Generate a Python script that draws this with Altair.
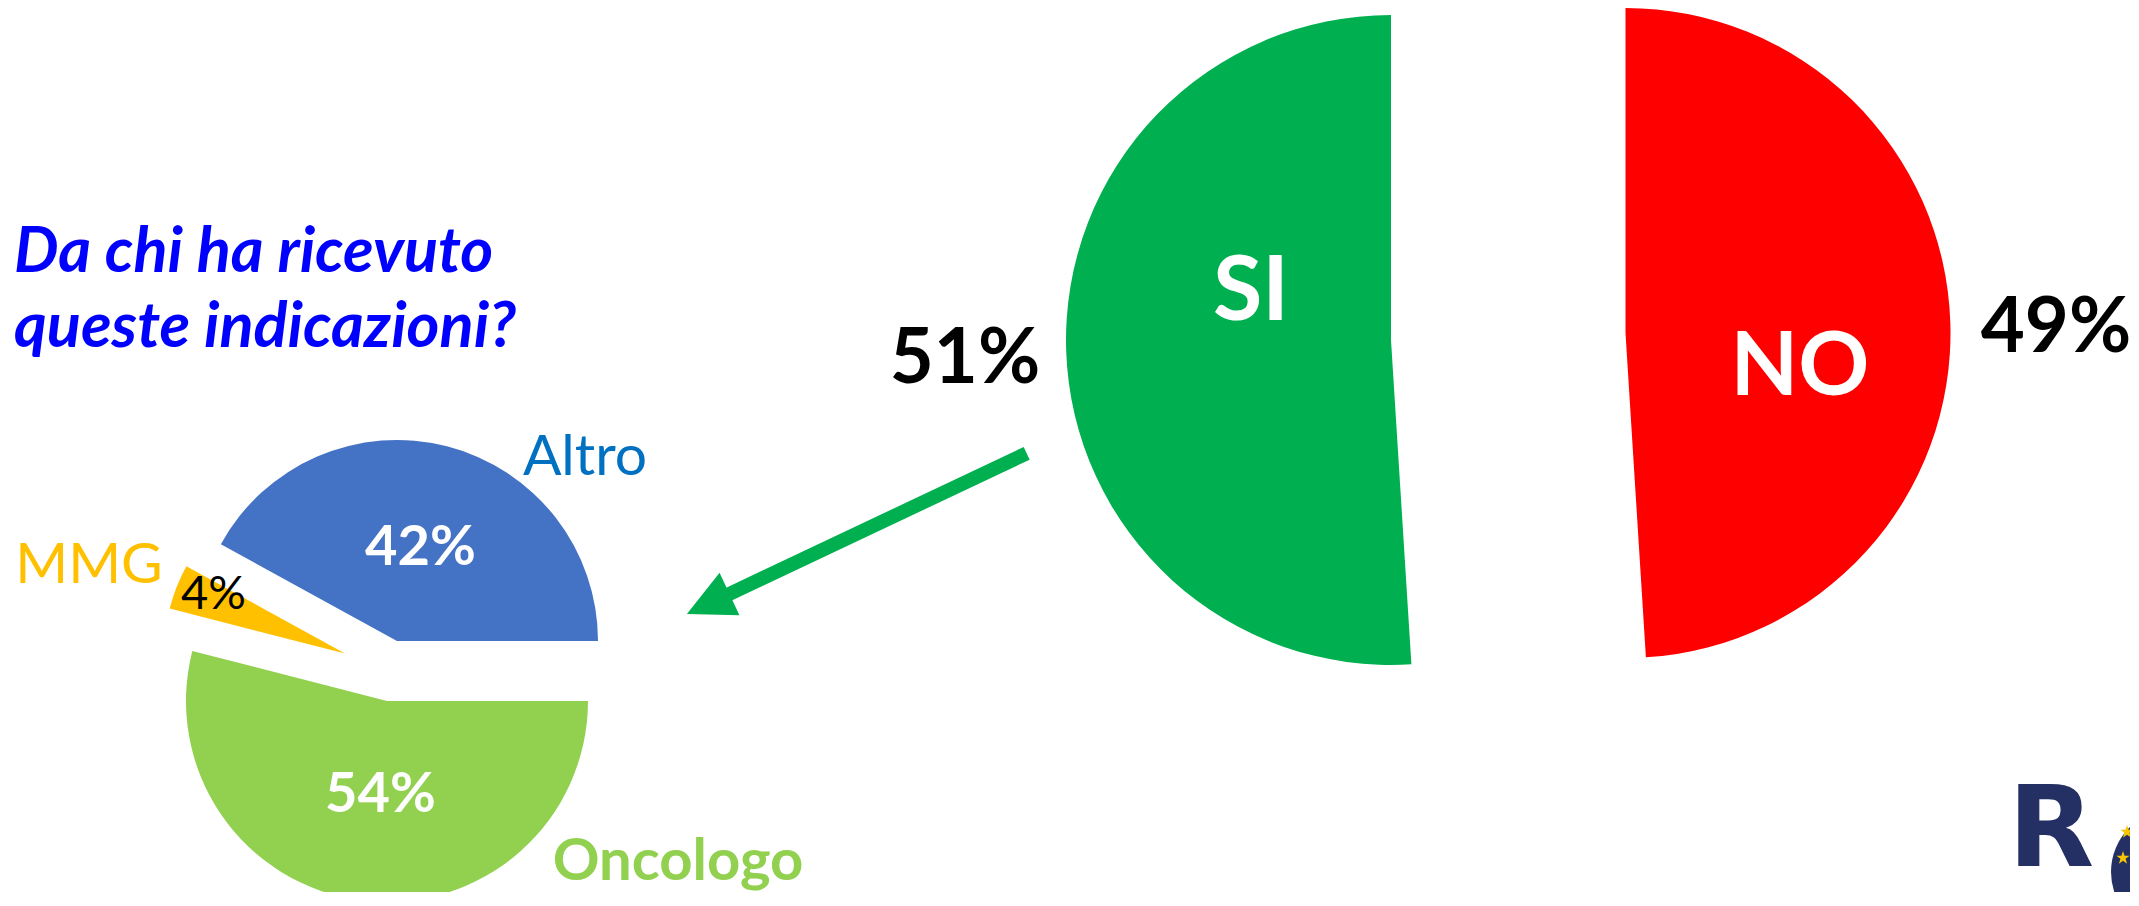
import math
import altair as alt
import pandas as pd

# ---------------- data ----------------
big_cats = ["NO", "SI"]
big_vals = [49, 51]
small_cats = ["Oncologo", "MMG", "Altro"]
small_vals = [54, 4, 42]
title_lines = ["Da chi ha ricevuto", "queste indicazioni?"]

# ---------------- layout / style ----------------
W, H = 2122, 884
OFF = 8
FONT = "Lato"

RED = "#FF0000"
GREEN = "#00B050"
BLUE = "#4472C4"
LGREEN = "#92D050"
YELLOW = "#FFC000"
NAVY = "#243064"


def px(x):
    return x - OFF


big_df = pd.DataFrame({"cat": big_cats, "value": big_vals, "idx": list(range(len(big_cats)))})
small_df = pd.DataFrame({"cat": small_cats, "value": small_vals, "idx": list(range(len(small_cats)))})
title_df = pd.DataFrame({"line": title_lines, "idx": list(range(len(title_lines)))})
dummy = pd.DataFrame({"k": [0]})


def base(df):
    return (
        alt.Chart(df)
        .transform_window(end="sum(value)", sort=[alt.SortField("idx")], frame=[None, 0])
        .transform_calculate(start="datum.end - datum.value", pct="datum.value + '%'")
    )


def slice_layer(df, cat, center, r, color, a0):
    return (
        base(df)
        .transform_filter(alt.datum.cat == cat)
        .mark_arc(radius=r, color=color)
        .encode(
            theta=alt.Theta("start:Q", scale=alt.Scale(domain=[0, 100], range=[a0, a0 + 2 * math.pi])),
            theta2="end:Q",
            x=alt.value(px(center[0])),
            y=alt.value(px(center[1])),
        )
    )


def text_layer(df, cat, field, pos, size, color, weight="bold", align="center"):
    return (
        base(df)
        .transform_filter(alt.datum.cat == cat)
        .mark_text(font=FONT, fontSize=size, fontWeight=weight, color=color,
                   align=align, baseline="alphabetic")
        .encode(x=alt.value(px(pos[0])), y=alt.value(px(pos[1])), text=alt.Text(f"{field}:N"))
    )


layers = []

# big pie (starts at 12 o'clock)
layers.append(slice_layer(big_df, "NO", (1625.5, 333), 325, RED, 0))
layers.append(slice_layer(big_df, "SI", (1391, 340), 325, GREEN, 0))

# small pie (starts at 3 o'clock)
a0 = math.pi / 2
layers.append(slice_layer(small_df, "Oncologo", (387, 701), 201, LGREEN, a0))
layers.append(slice_layer(small_df, "MMG", (345, 653.5), 181, YELLOW, a0))
layers.append(slice_layer(small_df, "Altro", (397, 641), 201, BLUE, a0))

# big pie labels
layers.append(text_layer(big_df, "SI", "cat", (1251, 320), 90, "white"))
layers.append(text_layer(big_df, "NO", "cat", (1800, 395), 88, "white"))
layers.append(text_layer(big_df, "SI", "pct", (965, 382.7), 76, "black"))
layers.append(text_layer(big_df, "NO", "pct", (2056, 351.7), 76, "black"))

# small pie labels
layers.append(text_layer(small_df, "Altro", "pct", (420.5, 565), 56, "white"))
layers.append(text_layer(small_df, "Oncologo", "pct", (380.5, 811.7), 56, "white"))
layers.append(text_layer(small_df, "MMG", "pct", (181, 609.3), 47, "black", weight="normal", align="left"))
layers.append(text_layer(small_df, "MMG", "cat", (89, 583.3), 57, YELLOW, weight="normal"))
layers.append(text_layer(small_df, "Altro", "cat", (585, 475), 57, "#0070C0", weight="normal"))
layers.append(text_layer(small_df, "Oncologo", "cat", (678, 880), 58, LGREEN))

# title
for i, yb in enumerate([271.7, 347.3]):
    layers.append(
        alt.Chart(title_df)
        .transform_filter(alt.datum.idx == i)
        .mark_text(font=FONT, fontSize=63, fontWeight="bold", fontStyle="italic",
                   color="#0000FF", align="left", baseline="alphabetic")
        .encode(x=alt.value(px(14)), y=alt.value(px(yb)), text="line:N")
    )

# arrow
layers.append(
    alt.Chart(dummy)
    .mark_rule(color=GREEN, strokeWidth=14, strokeCap="butt")
    .encode(x=alt.value(px(1026.7)), y=alt.value(px(453.3)),
            x2=alt.value(px(724)), y2=alt.value(px(596.5)))
)
layers.append(
    alt.Chart(dummy)
    .mark_point(shape="M0,-1L-1,1L1,1Z", filled=True, opacity=1, size=2209, angle=245, color=GREEN)
    .encode(x=alt.value(px(708.2)), y=alt.value(px(604)))
)

# logo fragment (bottom right)
layers.append(
    alt.Chart(dummy)
    .mark_point(shape="circle", filled=True, opacity=1, size=15876, color=NAVY)
    .encode(x=alt.value(px(2174)), y=alt.value(px(872)))
)
STAR = ("M0,-1L0.2245,-0.309L0.951,-0.309L0.363,0.118L0.588,0.809L0,0.382"
        "L-0.588,0.809L-0.363,0.118L-0.951,-0.309L-0.2245,-0.309Z")
for sx, sy in [(2127, 832), (2123, 858)]:
    layers.append(
        alt.Chart(dummy)
        .mark_point(shape=STAR, filled=True, opacity=1, size=196, color="#F7C600")
        .encode(x=alt.value(px(sx)), y=alt.value(px(sy)))
    )
layers.append(
    alt.Chart(dummy)
    .mark_text(text="R", font="DejaVu Sans", fontSize=112, fontWeight="bold", color=NAVY,
               align="left", baseline="alphabetic")
    .encode(x=alt.value(px(2008)), y=alt.value(px(866)))
)

chart = (
    alt.layer(*layers)
    .resolve_scale(theta="independent")
    .properties(width=W, height=H, padding=0, autosize=alt.AutoSizeParams(type="none"))
    .configure_view(stroke=None)
)

chart.save("out.html", embed_options={"renderer": "svg", "actions": False})
